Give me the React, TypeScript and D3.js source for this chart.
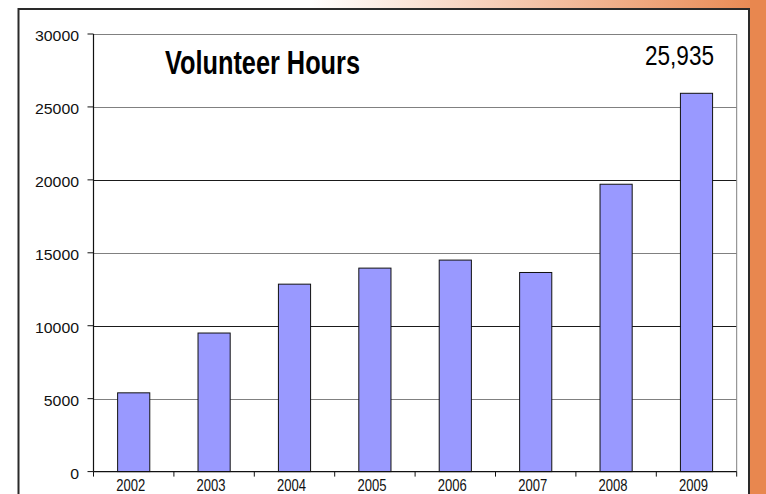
import React from "react";
import * as d3 from "d3";

const years = ["2002", "2003", "2004", "2005", "2006", "2007", "2008", "2009"];
const hours = [5400, 9500, 12850, 13950, 14500, 13650, 19700, 25935];
const yTicks = [0, 5000, 10000, 15000, 20000, 25000, 30000];
const titleText = "Volunteer Hours";
const totalText = "25,935";

const W = 766;
const H = 494;
const ORANGE = "#E8874F";
const FONT = "'Liberation Sans', Arial, Helvetica, sans-serif";

export default function App() {
  const x = d3.scaleBand<string>().domain(years).range([93.5, 736.7]).padding(0);
  const y = d3.scaleLinear().domain([0, 30000]).range([471.6, 34]);
  const bw = x.bandwidth() * 0.4;
  const left = x.range()[0];
  const right = x.range()[1];
  const bottom = y(0);
  const top = y(30000);

  return (
    <svg
      width={W}
      height={H}
      style={{ position: "absolute", left: 0, top: 0, display: "block" }}
    >
      <defs>
        <linearGradient id="topGrad" x1="0" x2="1" y1="0" y2="0">
          <stop offset="0" stopColor="#ffffff" />
          <stop offset="1" stopColor={ORANGE} />
        </linearGradient>
      </defs>
      <rect x={0} y={0} width={W} height={H} fill="#ffffff" />
      <rect x={310} y={0} width={W - 310} height={12} fill="url(#topGrad)" />
      <rect x={750} y={0} width={16} height={H} fill={ORANGE} />
      {/* panel */}
      <rect
        x={18.5}
        y={9}
        width={730.5}
        height={H + 20}
        fill="#ffffff"
        stroke="#2a2a2a"
        strokeWidth={2}
      />

      {/* gridlines */}
      {yTicks
        .filter((t) => t > 0)
        .map((t) => (
          <line
            key={"g" + t}
            x1={left}
            x2={right}
            y1={Math.round(y(t)) + 0.5}
            y2={Math.round(y(t)) + 0.5}
            stroke={t % 10000 === 0 && t !== 30000 ? "#1a1a1a" : "#808080"}
            strokeWidth={1}
          />
        ))}
      {/* right plot border */}
      <line x1={right} x2={right} y1={top} y2={bottom} stroke="#808080" strokeWidth={1} />

      {/* bars */}
      {years.map((yr, i) => {
        const cx = (x(yr) as number) + x.bandwidth() / 2;
        return (
          <rect
            key={yr}
            x={cx - bw / 2}
            y={y(hours[i])}
            width={bw}
            height={bottom - y(hours[i])}
            fill="#9999FF"
            stroke="#111"
            strokeWidth={1}
          />
        );
      })}

      {/* y axis */}
      <line x1={left} x2={left} y1={top} y2={bottom} stroke="#111" strokeWidth={1.2} />
      {yTicks.map((t) => (
        <g key={"yt" + t}>
          <line x1={left - 6} x2={left} y1={y(t)} y2={y(t)} stroke="#111" strokeWidth={1} />
          <text
            transform={`translate(79, ${y(t) + 7}) scale(1.1, 1)`}
            textAnchor="end"
            fontFamily={FONT}
            fontSize={14.4}
            fill="#111"
          >
            {t}
          </text>
        </g>
      ))}

      {/* x axis */}
      <line x1={left} x2={right} y1={bottom} y2={bottom} stroke="#111" strokeWidth={1.2} />
      {years.map((yr) => (
        <line
          key={"xt" + yr}
          x1={x(yr) as number}
          x2={x(yr) as number}
          y1={bottom}
          y2={bottom + 5}
          stroke="#111"
          strokeWidth={1}
        />
      ))}
      <line x1={right} x2={right} y1={bottom} y2={bottom + 5} stroke="#111" strokeWidth={1} />
      {years.map((yr) => (
        <text
          key={"xl" + yr}
          transform={`translate(${(x(yr) as number) + x.bandwidth() / 2 - 3}, 490.7) scale(0.815, 1)`}
          textAnchor="middle"
          fontFamily={FONT}
          fontSize={16}
          fill="#111"
        >
          {yr}
        </text>
      ))}

      {/* title */}
      <text
        x={165}
        y={74.3}
        fontFamily={FONT}
        fontWeight="bold"
        fontSize={33.5}
        textLength={195}
        lengthAdjust="spacingAndGlyphs"
        fill="#000"
      >
        {titleText}
      </text>
      <text
        x={645}
        y={65}
        fontFamily={FONT}
        fontSize={27.5}
        textLength={69}
        lengthAdjust="spacingAndGlyphs"
        fill="#000"
      >
        {totalText}
      </text>
    </svg>
  );
}
